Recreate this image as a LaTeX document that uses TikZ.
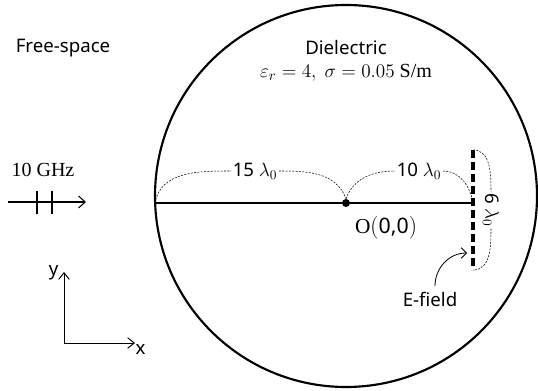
\documentclass[tikz,border=0pt]{standalone}
\usepackage{fontspec}
\setmainfont{Liberation Serif}
\setsansfont{Noto Sans}
\usetikzlibrary{arrows.meta}
\tikzset{
    lbl/.style={font=\sffamily\fontsize{14}{16}\selectfont, inner sep=1pt},
    dimline/.style={line width=0.4pt, dash pattern=on 1.5pt off 1pt},
}

\begin{document}
\begin{tikzpicture}[x=0.75pt,y=-0.75pt]
    \useasboundingbox (0,0) rectangle (538,391);
    % dielectric sphere
    \draw[line width=1.6pt] (346,196) circle (191);
    \coordinate (edge) at (155,203);
    \node[circle, fill=black, minimum size=6pt, inner sep=0pt] (o) at (346,203) {};
    \coordinate (dtop) at (473,150);
    \coordinate (dmid) at (473,203);
    \coordinate (dbot) at (473,270);
    \draw[line width=0.8pt] (edge) -- (o) -- (dmid);
    \draw[line width=2.6pt, dash pattern=on 6pt off 3pt] (dtop) -- (dbot);
    % texts
    \node[lbl] (free) at (63,48) {Free-space};
    \node[lbl] (diel) at (346,48) {Dielectric};
    \node[font=\fontsize{15}{17}\selectfont] (mat) at (346,73) {$\varepsilon_r = 4,\ \sigma = 0.05$ S/m};
    \node[lbl, font=\sffamily\fontsize{16}{18}\selectfont] (orig) at (386,228) {\rmfamily O\sffamily$\Bigl($0,0$\Bigr)$};
    \node[lbl] (efield) at (430,299) {E-field};
    % dimensions
    \node[lbl] (d15) at (255,171) {15 $\lambda_0$};
    \node[lbl] (d10) at (419,171) {10 $\lambda_0$};
    \node[lbl, rotate=-90] (d6) at (491,210) {6 $\lambda_0$};
    \draw[dimline] (edge) to[out=80, in=180] (d15.west);
    \draw[dimline] (d15.east) to[out=0, in=110] (o.north);
    \draw[dimline] (o.north) to[out=70, in=180] (d10.west);
    \draw[dimline] (d10.east) to[out=0, in=100] (dmid);
    \draw[dimline] (dtop) to[out=0, in=90] (d6.west);
    \draw[dimline] (d6.east) to[out=-90, in=0] (dbot);
    \draw[-{Straight Barb[length=4pt]}, line width=0.6pt] (efield.north) ++(5,-4) to[out=90, in=180] (467,253);
    % source
    \node[font=\fontsize{15}{17}\selectfont] (src) at (43,170) {10 GHz};
    \coordinate (s0) at (8,202);
    \coordinate (s1) at (86,202);
    \draw[-{Straight Barb[length=5pt, width=9pt]}, line width=0.8pt] (s0) -- (s1);
    \foreach \xx in {37,52}
        \draw[line width=0.8pt] (\xx,191) -- (\xx,214);
    % axes
    \coordinate (ax) at (64,343);
    \draw[-{Straight Barb[length=5pt, width=8pt]}, line width=0.7pt] (ax) -- (64,272) coordinate (ay);
    \draw[-{Straight Barb[length=5pt, width=8pt]}, line width=0.7pt] (ax) -- (135,343) coordinate (axx);
    \node[lbl, anchor=north east] (ylbl) at (60,264) {y};
    \node[lbl, anchor=north west] (xlbl) at (134,343) {x};
\end{tikzpicture}
\end{document}
